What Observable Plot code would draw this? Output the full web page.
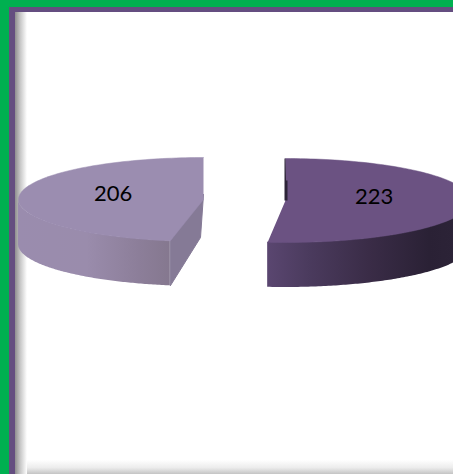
<!DOCTYPE html>
<html>
<head>
<meta charset="utf-8">
<script src="https://cdn.jsdelivr.net/npm/d3@7"></script>
<script src="https://cdn.jsdelivr.net/npm/@observablehq/plot@0.6"></script>
<style>
html,body{margin:0;padding:0;overflow:hidden;background:#fff}
#frame{position:relative;width:453px;height:474px;overflow:hidden;background:#fff}
#frame .band{position:absolute}
#frame svg{position:absolute;left:0;top:0}
</style>
</head>
<body>
<div id="frame">
  <div class="band" style="left:15px;right:0;bottom:0;height:14px;background:linear-gradient(to top,#c4c4c4,#ececec 45%,#fff)"></div>
  <div class="band" style="left:15px;top:12px;bottom:0;width:12px;background:linear-gradient(to right,#8e8e8e,#c8c8c8 45%,#fff)"></div>
  <div class="band" style="left:9px;top:7px;bottom:0;width:6px;background:#644e80"></div>
  <div class="band" style="left:9px;top:7px;right:0;height:5px;background:#644e80"></div>
  <div class="band" style="left:0;top:0;bottom:0;width:9px;background:#00b050"></div>
  <div class="band" style="left:0;top:0;right:0;height:7px;background:#00b050"></div>
</div>
<script>
// Data, clockwise from 12 o'clock
const labels = ["223", "206"];
const values = [223, 206];

// Tilted, exploded pie geometry (kept apart from the data)
const rx = 185, ry = 42, depth = 45;
const centers = [[285, 200], [203, 199]];
const frontShift = [-1.6, 3.2];     // perspective correction of the shared front edge, degrees
const labelRadius = [0.48, 0.49];
const topColors = ["#6b5282", "#9b8db0"];
const innerFace = "#857a96", innerStrip = "#2d2438";

const arcs = d3.pie().sort(null)(values);
const deg = 180 / Math.PI;
const wedge = arcs.map((a, i) => {
  const t0 = a.startAngle * deg - 90 + (i === 1 ? frontShift[1] : 0);
  const t1 = a.endAngle * deg - 90 + (i === 0 ? frontShift[0] : 0);
  return {t0, t1, cx: centers[i][0], cy: centers[i][1], mid: (a.startAngle + a.endAngle) / 2 * deg - 90};
});
const pt = (w, t, r = 1, dz = 0) => ({
  x: w.cx + r * rx * Math.cos(t / deg),
  y: w.cy + r * ry * Math.sin(t / deg) + dz
});
const sweep = (a, b) => d3.range(0, 121).map(k => a + (b - a) * k / 120);

// Top surfaces
const topPoly = wedge.map(w => [{x: w.cx, y: w.cy}, ...sweep(w.t0, w.t1).map(t => pt(w, t))]);
// Outer walls: only the front part of each rim shows
const wallRight = sweep(0, wedge[0].t1).map(t => {
  const p = pt(wedge[0], t);
  return {x: p.x, y1: p.y, y2: p.y + depth};
});
const wallLeft = sweep(wedge[1].t0, 180).map(t => {
  const p = pt(wedge[1], t);
  return {x: p.x, y1: p.y, y2: p.y + depth};
});
// Cut face of the left slice and the sliver of the right slice's inner wall
const wl = wedge[1], wr = wedge[0];
const a = pt(wl, wl.t0);
const cutFace = [{x: wl.cx, y: wl.cy - 5}, a, {x: a.x, y: a.y + depth}, {x: wl.cx - 3, y: wl.cy + depth - 7}, {x: wl.cx, y: wl.cy - 5}];
const sliver = [
  {x: wr.cx - 1, y: wr.cy - ry}, {x: wr.cx, y: wr.cy - ry},
  {x: wr.cx + 0.5, y: wr.cy - 20}, {x: wr.cx + 2, y: wr.cy - 20},
  {x: wr.cx + 2, y: wr.cy}, {x: wr.cx - 1, y: wr.cy}
];
const labelPts = wedge.map((w, i) => {
  const p = pt(w, w.mid, labelRadius[i], -4.5);
  return {...p, label: labels[i]};
});

const gradient = (id, stops) => `<linearGradient id="${id}" x1="0" x2="1" y1="0" y2="0">` +
  stops.map(([o, c]) => `<stop offset="${o}" stop-color="${c}"/>`).join("") + `</linearGradient>`;

const defs = () => {
  const g = document.createElementNS("http://www.w3.org/2000/svg", "defs");
  g.innerHTML =
    gradient("wallL", [[0, "#9a8cae"], [0.45, "#9a8cac"], [0.8, "#8c7e99"], [1, "#85788f"]]) +
    gradient("wallR", [[0, "#5a4670"], [0.2, "#4b3b5e"], [0.5, "#3a2c47"], [0.8, "#2a2135"], [1, "#2d2438"]]);
  return g;
};

const chart = Plot.plot({
  width: 453, height: 474,
  marginTop: 0, marginRight: 0, marginBottom: 0, marginLeft: 0,
  x: {domain: [0, 453], range: [0, 453], axis: null},
  y: {domain: [0, 474], range: [0, 474], axis: null},
  style: {background: "transparent"},
  marks: [
    defs,
    Plot.areaY(wallLeft, {x: "x", y1: "y1", y2: "y2", fill: "url(#wallL)"}),
    Plot.line(cutFace, {x: "x", y: "y", fill: innerFace, stroke: innerFace, strokeWidth: 1}),
    Plot.areaY(wallRight, {x: "x", y1: "y1", y2: "y2", fill: "url(#wallR)", clip: true}),
    ...topPoly.map((p, i) => Plot.line(p, {x: "x", y: "y", fill: topColors[i], stroke: topColors[i], strokeWidth: 0.5, clip: true})),
    Plot.line(sliver, {x: "x", y: "y", fill: innerStrip, stroke: "none"}),
    Plot.text(labelPts, {
      x: "x", y: "y", text: "label", fill: "#000",
      fontFamily: "Lato", fontSize: 22, textAnchor: "middle"
    })
  ]
});
document.getElementById("frame").appendChild(chart);
</script>
</body>
</html>
